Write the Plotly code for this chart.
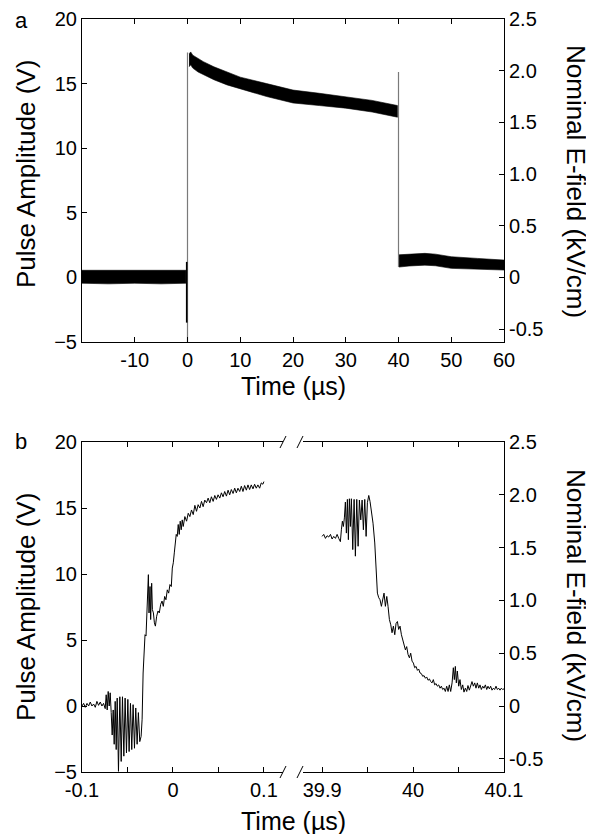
import plotly.graph_objects as go

# the page body has an 8 px margin; lay the figure out in window pixels minus that offset
OFF = 8
W, H = 594 - OFF, 834 - OFF
FONT = "Liberation Sans, Arial, sans-serif"

# ---------------- data: panel a (envelope of the noisy trace, V) ----------------
A_PRE_T = [-20, -15, -10, -5, -0.3]
A_PRE_HI = [0.55, 0.55, 0.6, 0.55, 0.55]
A_PRE_LO = [-0.45, -0.5, -0.45, -0.5, -0.45]

A_PULSE_T = [0.3, 0.6, 1, 2, 3, 5, 7.5, 10, 15, 20, 25, 30, 35, 39.8]
A_PULSE_HI = [17.3, 17.45, 17.2, 16.95, 16.7, 16.3, 15.9, 15.5, 15.0, 14.5, 14.25, 14.0, 13.7, 13.3]
A_PULSE_LO = [16.3, 16.45, 16.2, 15.9, 15.7, 15.3, 14.9, 14.6, 14.0, 13.5, 13.3, 13.1, 12.8, 12.4]

A_POST_T = [40.1, 42, 45, 47, 50, 55, 60]
A_POST_HI = [1.75, 1.8, 1.86, 1.8, 1.6, 1.47, 1.34]
A_POST_LO = [0.8, 0.88, 0.95, 0.9, 0.7, 0.62, 0.57]

# vertical transitions (x, y_start, y_end)
A_EDGE_RISE = (0, -5, 17.4)
A_EDGE_SPIKE = (-0.15, 1.2, -3.5)
A_EDGE_FALL = (40, 15.9, 0.8)

# ---------------- data: panel b (V) ----------------
B_RISE_T = [-0.1, -0.0982, -0.0964, -0.0945, -0.0927, -0.0909, -0.0891, -0.0872, -0.0854, -0.0836,
            -0.0818, -0.0799, -0.0781, -0.0763, -0.0745, -0.0734, -0.0723, -0.0712, -0.0701, -0.069,
            -0.0679, -0.0668, -0.0657, -0.0646, -0.0635, -0.0624, -0.0613, -0.0599, -0.0584, -0.0569,
            -0.0555, -0.054, -0.0526, -0.0511, -0.0496, -0.0482, -0.0467, -0.0453, -0.0438, -0.0423,
            -0.0409, -0.0394, -0.038, -0.0365, -0.035, -0.0339, -0.0328, -0.0318, -0.0307, -0.0296,
            -0.0285, -0.0277, -0.027, -0.0263, -0.0252, -0.0245, -0.0234, -0.0226, -0.0215, -0.0204,
            -0.0193, -0.0179, -0.0164, -0.015, -0.0135, -0.012, -0.0106, -0.0091, -0.0077, -0.0062,
            -0.0047, -0.0033, -0.0018, -0.0007, 0.0004, 0.0015, 0.0026, 0.0036, 0.0047, 0.0058,
            0.0069, 0.008, 0.0091, 0.0102, 0.0113, 0.0131, 0.015, 0.0168, 0.0186, 0.0204,
            0.0223, 0.0241, 0.0259, 0.0277, 0.0296, 0.0314, 0.0332, 0.035, 0.0369, 0.0387,
            0.0405, 0.0423, 0.0442, 0.046, 0.0478, 0.0496, 0.0515, 0.0533, 0.0551, 0.0569,
            0.0588, 0.0606, 0.0624, 0.0642, 0.0661, 0.0679, 0.0697, 0.0715, 0.0734, 0.0752,
            0.077, 0.0788, 0.0807, 0.0825, 0.0843, 0.0861, 0.088, 0.0898, 0.0916, 0.0934,
            0.0953, 0.0971, 0.0989, 0.1]
B_RISE_V = [0.0, 0.2, -0.1, 0.2, 0.0, 0.3, 0.0, 0.15, -0.1, 0.35,
            0.05, 0.3, 0.0, 0.2, -0.2, 0.85, -0.3, 1.1, 0.0, 1.0,
            -0.5, -2.2, -0.3, -2.9, 0.35, -3.3, 0.6, -4.95, 0.7, -4.2,
            0.7, -3.8, 0.6, -3.55, 0.5, -3.45, 0.2, -3.3, 0.1, -3.2,
            -0.15, -2.9, -0.5, -2.7, -2.3, -1.0, 2.5, 4.0, 5.4, 5.3,
            7.55, 9.8, 9.95, 7.05, 9.05, 6.55, 9.3, 7.3, 7.05, 6.3,
            6.05, 6.8, 7.2, 7.05, 7.7, 7.95, 7.55, 8.3, 8.05, 8.8,
            8.55, 9.2, 9.05, 10.45, 10.85, 11.6, 12.6, 13.0, 12.85, 13.75,
            13.0, 14.0, 13.35, 14.1, 13.6, 14.35, 14.0, 14.6, 14.35, 14.85,
            14.5, 15.2, 14.75, 15.25, 15.0, 15.5, 15.1, 15.6, 15.4, 15.75,
            15.4, 15.85, 15.5, 15.95, 15.65, 16.0, 15.75, 16.15, 15.85, 16.25,
            15.9, 16.35, 16.0, 16.4, 16.1, 16.5, 16.15, 16.5, 16.25, 16.65,
            16.25, 16.7, 16.35, 16.75, 16.4, 16.75, 16.45, 16.8, 16.5, 16.75,
            16.5, 16.9, 16.8, 17.0]

B_FALL_T = [39.9, 39.9018, 39.9037, 39.9055, 39.9073, 39.9092, 39.911, 39.9128, 39.9147, 39.9165,
            39.9183, 39.9201, 39.9212, 39.9223, 39.9234, 39.9245, 39.9256, 39.9267, 39.9278, 39.9289,
            39.93, 39.9311, 39.9322, 39.9337, 39.9352, 39.9366, 39.9381, 39.9396, 39.941, 39.9425,
            39.944, 39.9454, 39.9469, 39.9484, 39.9498, 39.9513, 39.9527, 39.9542, 39.956, 39.9579,
            39.9593, 39.9608, 39.9623, 39.9637, 39.9652, 39.9667, 39.9681, 39.9696, 39.9711, 39.9725,
            39.974, 39.9755, 39.9769, 39.9784, 39.9799, 39.9813, 39.9828, 39.9842, 39.9857, 39.9872,
            39.9886, 39.9901, 39.9916, 39.993, 39.9945, 39.996, 39.9974, 39.9989, 40.0004, 40.0018,
            40.0033, 40.0048, 40.0062, 40.0077, 40.0092, 40.0106, 40.0121, 40.0136, 40.015, 40.0165,
            40.018, 40.0194, 40.0209, 40.0223, 40.0238, 40.0253, 40.0267, 40.0282, 40.0297, 40.0311,
            40.0326, 40.0341, 40.0355, 40.037, 40.0385, 40.0399, 40.0414, 40.0429, 40.0443, 40.0454,
            40.0465, 40.0476, 40.0487, 40.0502, 40.0516, 40.0531, 40.0546, 40.056, 40.0575, 40.059,
            40.0604, 40.0619, 40.0634, 40.0648, 40.0663, 40.0678, 40.0692, 40.0707, 40.0722, 40.0736,
            40.0751, 40.0766, 40.078, 40.0795, 40.081, 40.0824, 40.0839, 40.0853, 40.0868, 40.0883,
            40.0897, 40.0912, 40.0927, 40.0941, 40.0956, 40.0971, 40.0985, 40.1]
B_FALL_V = [12.85, 13.0, 12.7, 12.9, 12.8, 13.0, 12.65, 12.85, 12.7, 13.0,
            12.7, 12.45, 13.35, 14.0, 13.6, 14.25, 15.45, 13.1, 15.65, 12.6,
            15.7, 13.6, 15.7, 11.85, 15.65, 11.35, 15.65, 12.1, 15.6, 14.1,
            15.6, 13.35, 15.65, 12.85, 15.4, 15.95, 15.5, 14.85, 13.85, 12.35,
            10.6, 8.55, 8.2, 8.05, 7.55, 7.95, 8.55, 7.55, 8.3, 7.55,
            6.55, 6.15, 5.55, 6.05, 5.4, 6.25, 6.4, 5.8, 6.05, 5.4,
            5.0, 4.5, 4.25, 4.5, 3.9, 3.65, 4.0, 3.4, 3.25, 2.9,
            3.0, 2.7, 2.8, 2.5, 2.45, 2.25, 2.3, 2.1, 2.2, 1.95,
            2.05, 1.85, 1.75, 2.0, 1.6, 1.7, 1.5, 1.6, 1.35, 1.5,
            1.25, 1.35, 1.1, 1.5, 1.1, 1.6, 1.1, 1.75, 2.9, 2.0,
            3.0, 1.75, 2.65, 1.5, 2.0, 1.25, 1.6, 1.05, 1.35, 1.1,
            1.55, 1.2, 1.5, 1.85, 1.5, 1.75, 1.35, 1.75, 1.35, 1.6,
            1.25, 1.5, 1.35, 1.6, 1.25, 1.5, 1.3, 1.5, 1.2, 1.35,
            1.25, 1.5, 1.25, 1.35, 1.2, 1.35, 1.25, 1.3]

# ---------------- axes / ticks ----------------
V_RANGE = [-5, 20]
V_TICKS = [-5, 0, 5, 10, 15, 20]
VOLT_PER_KVCM = 8.0   # nominal conversion: 20 V <-> 2.5 kV/cm
EF_TICKS = [-0.5, 0, 0.5, 1.0, 1.5, 2.0, 2.5]
EF_LABELS = ["-0.5", "0", "0.5", "1.0", "1.5", "2.0", "2.5"]
A_X_TICKS = [-20, -10, 0, 10, 20, 30, 40, 50, 60]
A_X_LABELS = ["", "-10", "0", "10", "20", "30", "40", "50", "60"]
B_L_TICKS = [-0.1, -0.05, 0, 0.05, 0.1]
B_L_LABELS = ["-0.1", "", "0", "", "0.1"]
B_R_TICKS = [39.9, 39.95, 40, 40.05, 40.1]
B_R_LABELS = ["39.9", "", "40", "", "40.1"]

X_TITLE = "Time (\u00b5s)"
Y_TITLE = "Pulse Amplitude (V)"
Y2_TITLE = "Nominal E-field (kV/cm)"


def px(x):
    """window pixel x -> paper fraction"""
    return (x - OFF) / W


def py(y):
    """window pixel y -> paper fraction"""
    return 1 - (y - OFF) / H


def band(t, hi, lo):
    return go.Scatter(x=list(t) + list(reversed(t)), y=list(hi) + list(reversed(lo)),
                      fill="toself", fillcolor="black", mode="lines",
                      line=dict(color="black", width=0.6), showlegend=False,
                      xaxis="x", yaxis="y", hoverinfo="skip")


fig = go.Figure()
fig.add_trace(band(A_PRE_T, A_PRE_HI, A_PRE_LO))
fig.add_trace(band(A_PULSE_T, A_PULSE_HI, A_PULSE_LO))
fig.add_trace(band(A_POST_T, A_POST_HI, A_POST_LO))
for (ex, y0, y1), col, w in [(A_EDGE_RISE, "#7a7a7a", 1.2), (A_EDGE_FALL, "#7a7a7a", 1.2),
                             (A_EDGE_SPIKE, "black", 1.6)]:
    fig.add_trace(go.Scatter(x=[ex, ex], y=[y0, y1], mode="lines",
                             line=dict(color=col, width=w), showlegend=False,
                             xaxis="x", yaxis="y"))
# register right-hand E-field axis of panel a
fig.add_trace(go.Scatter(x=[], y=[], xaxis="x", yaxis="y2", showlegend=False))

fig.add_trace(go.Scatter(x=B_RISE_T, y=B_RISE_V, mode="lines",
                         line=dict(color="black", width=1), showlegend=False,
                         xaxis="x3", yaxis="y3"))
fig.add_trace(go.Scatter(x=B_FALL_T, y=B_FALL_V, mode="lines",
                         line=dict(color="black", width=1), showlegend=False,
                         xaxis="x4", yaxis="y4"))
fig.add_trace(go.Scatter(x=[], y=[], xaxis="x4", yaxis="y5", showlegend=False))

TICKF = dict(family=FONT, size=20, color="black")
common = dict(showgrid=False, zeroline=False, showline=True, linecolor="black", linewidth=1,
              ticks="inside", ticklen=5, tickwidth=1, tickcolor="black", tickfont=TICKF,
              automargin=False)

A_TOP, A_BOT = 19, 342
B_TOP, B_BOT = 442, 772
X_L, X_R = 82, 504
B_L_END, B_R_START = 283, 303

ef_range = [V_RANGE[0] / VOLT_PER_KVCM, V_RANGE[1] / VOLT_PER_KVCM]

fig.update_layout(
    template="none",
    width=W, height=H, margin=dict(l=0, r=0, t=0, b=0, pad=0), autosize=False,
    paper_bgcolor="white", plot_bgcolor="white",
    font=dict(family=FONT, color="black"),
    xaxis=dict(domain=[px(X_L), px(X_R)], anchor="y", range=[-20, 60],
               tickvals=A_X_TICKS, ticktext=A_X_LABELS, mirror="ticks", **common),
    yaxis=dict(domain=[py(A_BOT), py(A_TOP)], anchor="x", range=V_RANGE,
               tickvals=V_TICKS, **common),
    yaxis2=dict(overlaying="y", side="right", anchor="x", range=ef_range,
                tickvals=EF_TICKS, ticktext=EF_LABELS, **common),
    xaxis3=dict(domain=[px(X_L), px(B_L_END)], anchor="y3", range=[-0.1, 0.121],
                tickvals=B_L_TICKS, ticktext=B_L_LABELS, mirror="ticks", **common),
    yaxis3=dict(domain=[py(B_BOT), py(B_TOP)], anchor="x3", range=V_RANGE,
                tickvals=V_TICKS, **common),
    xaxis4=dict(domain=[px(B_R_START), px(X_R)], anchor="y4", range=[39.879, 40.1],
                tickvals=B_R_TICKS, ticktext=B_R_LABELS, mirror="ticks", **common),
    yaxis4=dict(domain=[py(B_BOT), py(B_TOP)], anchor="x4", range=V_RANGE, visible=False),
    yaxis5=dict(overlaying="y4", side="right", anchor="x4", range=ef_range,
                tickvals=EF_TICKS, ticktext=EF_LABELS, **common),
)

YTITLEF = dict(family=FONT, size=26, color="black")
XTITLEF = dict(family=FONT, size=25, color="black")
ann = []
for lab, yc in [("a", 20), ("b", 441)]:
    ann.append(dict(text=lab, x=px(21), y=py(yc), xref="paper", yref="paper",
                    xanchor="center", yanchor="middle", showarrow=False,
                    font=dict(family=FONT, size=22, color="black")))
for yc_l, yc_r, yc_x in [(174, 181, 386), (607, 605, 821)]:
    ann.append(dict(text=Y_TITLE, x=px(26), y=py(yc_l), xref="paper", yref="paper",
                    xanchor="center", yanchor="middle", textangle=-90, showarrow=False,
                    font=YTITLEF))
    ann.append(dict(text=Y2_TITLE, x=px(576), y=py(yc_r), xref="paper", yref="paper",
                    xanchor="center", yanchor="middle", textangle=90, showarrow=False,
                    font=YTITLEF))
    ann.append(dict(text=X_TITLE, x=px(293), y=py(yc_x), xref="paper", yref="paper",
                    xanchor="center", yanchor="middle", showarrow=False, font=XTITLEF))
fig.update_layout(annotations=ann)

# axis-break marks
shapes = []
for yb in (B_TOP, B_BOT):
    for xb in (B_L_END, B_R_START - 3):
        shapes.append(dict(type="line", xref="paper", yref="paper",
                           x0=px(xb - 3), y0=py(yb + 6), x1=px(xb + 3), y1=py(yb - 6),
                           line=dict(color="black", width=1)))
fig.update_layout(shapes=shapes)

fig.write_html("out.html")
